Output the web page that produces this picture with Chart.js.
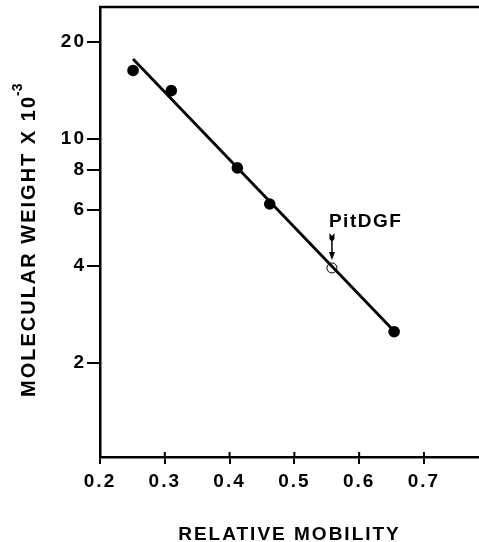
<!DOCTYPE html>
<html>
<head>
<meta charset="utf-8">
<script src="https://cdn.jsdelivr.net/npm/chart.js@4/dist/chart.umd.min.js"></script>
<style>
  html, body { margin: 0; padding: 0; background: #fff; }
  #wrap { width: 479px; height: 542px; }
</style>
</head>
<body>
<div id="wrap"><canvas id="ch"></canvas></div>
<script>
// standards: relative mobility vs molecular weight (x 10^-3)
const stdMobility = [0.251, 0.310, 0.412, 0.462, 0.654];
const stdWeight   = [16.3, 14.1, 8.1, 6.25, 2.5];

// PitDGF (open circle)
const pitMobility = [0.558];
const pitWeight   = [3.95];

// regression line ends
const fitMobility = [0.251, 0.649];
const fitWeight   = [17.7, 2.57];

const xTicks = [0.2, 0.3, 0.4, 0.5, 0.6, 0.7];
const yTicks = [2, 4, 6, 8, 10, 20];

const FONT = "'Liberation Sans', Arial, sans-serif";
const pts = (xs, ys) => xs.map((x, i) => ({ x, y: ys[i] }));

const setSpacing = (chart) => { chart.ctx.letterSpacing = '2px'; };

const extras = {
  id: 'extras',
  beforeUpdate: setSpacing,
  beforeLayout: setSpacing,
  beforeDraw: setSpacing,
  afterDraw(chart) {
    const { ctx, chartArea: a, scales: { x, y } } = chart;
    ctx.save();
    ctx.strokeStyle = '#000';
    ctx.fillStyle = '#000';

    // top frame line (no right side)
    ctx.lineWidth = 2.5;
    ctx.beginPath();
    ctx.moveTo(a.left - 1, a.top);
    ctx.lineTo(chart.width, a.top);
    ctx.stroke();

    // x ticks cross the axis
    ctx.lineWidth = 2;
    xTicks.slice(1).forEach(v => {
      const px = x.getPixelForValue(v);
      ctx.beginPath();
      ctx.moveTo(px, a.bottom - 5);
      ctx.lineTo(px, a.bottom);
      ctx.stroke();
    });

    // y title with superscript
    ctx.letterSpacing = '2px';
    ctx.translate(35, (a.top + a.bottom) / 2 + 14);
    ctx.rotate(-Math.PI / 2);
    ctx.font = 'bold 20px ' + FONT;
    ctx.textBaseline = 'alphabetic';
    const main = 'MOLECULAR WEIGHT X 10';
    const w = ctx.measureText(main).width;
    ctx.textAlign = 'left';
    ctx.fillText(main, -w / 2, 0);
    ctx.font = 'bold 14px ' + FONT;
    ctx.letterSpacing = '0px';
    ctx.fillText('-3', w / 2 - 1, -13);
    ctx.setTransform(1, 0, 0, 1, 0, 0);

    // PitDGF label + arrow
    const px = x.getPixelForValue(pitMobility[0]);
    const py = y.getPixelForValue(pitWeight[0]);
    ctx.letterSpacing = '1.5px';
    ctx.font = 'bold 19px ' + FONT;
    ctx.textAlign = 'left';
    ctx.fillText('PitDGF', px - 3, py - 41);
    // feathered tail
    ctx.beginPath();
    ctx.moveTo(px - 2.5, py - 35);
    ctx.lineTo(px, py - 32);
    ctx.lineTo(px + 2.5, py - 35);
    ctx.lineTo(px + 2.5, py - 29);
    ctx.lineTo(px, py - 26);
    ctx.lineTo(px - 2.5, py - 29);
    ctx.closePath();
    ctx.fill();
    ctx.lineWidth = 1.5;
    ctx.beginPath();
    ctx.moveTo(px, py - 28);
    ctx.lineTo(px, py - 15);
    ctx.stroke();
    ctx.beginPath();
    ctx.moveTo(px - 3, py - 16);
    ctx.lineTo(px + 3, py - 16);
    ctx.lineTo(px, py - 8);
    ctx.closePath();
    ctx.fill();
    ctx.restore();
  }
};

new Chart(document.getElementById('ch'), {
  type: 'scatter',
  data: {
    datasets: [
      {
        type: 'line',
        data: pts(fitMobility, fitWeight),
        borderColor: '#000',
        borderWidth: 2.8,
        pointRadius: 0,
        fill: false
      },
      {
        data: pts(stdMobility, stdWeight),
        backgroundColor: '#000',
        borderColor: '#000',
        pointRadius: 5.8,
        borderWidth: 0
      },
      {
        data: pts(pitMobility, pitWeight),
        backgroundColor: '#fff',
        borderColor: '#000',
        pointRadius: 5,
        borderWidth: 1
      }
    ]
  },
  options: {
    responsive: true,
    maintainAspectRatio: false,
    animation: false,
    layout: { autoPadding: false, padding: { top: 7, left: 0, right: 0, bottom: 0 } },
    plugins: { legend: { display: false }, tooltip: { enabled: false } },
    scales: {
      x: {
        type: 'linear',
        min: 0.2,
        max: 0.785,
        afterBuildTicks: (s) => { s.ticks = xTicks.map(v => ({ value: v })); },
        afterFit: (s) => { s.height = 85; s.paddingLeft = 0; s.paddingRight = 0; },
        ticks: {
          color: '#000',
          font: { family: FONT, size: 19, weight: 'bold' },
          padding: 6,
          maxRotation: 0,
          callback: (v) => v.toFixed(1)
        },
        grid: { drawOnChartArea: false, drawTicks: true, tickLength: 7, color: '#000', lineWidth: 2 },
        border: { color: '#000', width: 2.5 },
        title: {
          display: true,
          text: 'RELATIVE MOBILITY',
          color: '#000',
          font: { family: FONT, size: 19, weight: 'bold', lineHeight: 1 },
          padding: { top: 0, bottom: -2 }
        }
      },
      y: {
        type: 'logarithmic',
        min: 1.017,
        max: 25.7,
        afterBuildTicks: (s) => { s.ticks = yTicks.map(v => ({ value: v })); },
        afterFit: (s) => { s.width = 100; s.paddingTop = 0; s.paddingBottom = 0; },
        ticks: {
          color: '#000',
          font: { family: FONT, size: 19, weight: 'bold' },
          padding: 1,
          callback: (v) => String(v)
        },
        grid: { drawOnChartArea: false, drawTicks: true, tickLength: 13, color: '#000', lineWidth: 2 },
        border: { color: '#000', width: 2.5 }
      }
    }
  },
  plugins: [extras]
});
</script>
</body>
</html>
